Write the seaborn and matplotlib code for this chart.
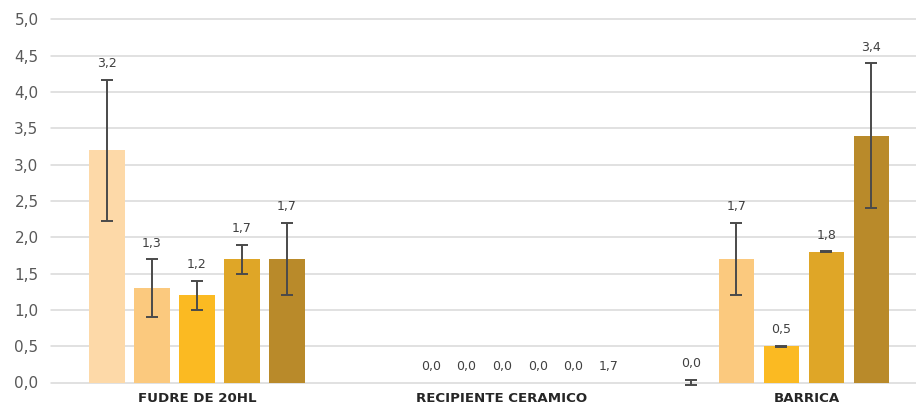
import numpy as np
import pandas as pd
import matplotlib
matplotlib.use("Agg")
import matplotlib.pyplot as plt
import seaborn as sns

# ---------------- data ----------------
categories = ["FUDRE DE 20HL", "RECIPIENTE CERAMICO", "BARRICA"]
series = ["S1", "S2", "S3", "S4", "S5"]
colors = ["#FDD9A8", "#FBC97E", "#FBBA22", "#DFA627", "#B98A2A"]

fudre_values = [3.2, 1.3, 1.2, 1.7, 1.7]
fudre_err = [0.97, 0.40, 0.20, 0.20, 0.50]

recipiente_values = [0.0, 0.0, 0.0, 0.0, 0.0]
recipiente_extra_label = 1.7  # stray label shown after the zeros

barrica_values = [0.0, 1.7, 0.5, 1.8, 3.4]
barrica_err = [0.04, 0.50, 0.006, 0.006, 1.00]

yticks = [0.0, 0.5, 1.0, 1.5, 2.0, 2.5, 3.0, 3.5, 4.0, 4.5, 5.0]

# ---------------- layout helpers ----------------
step_wide = 0.1475   # slot spacing in FUDRE / BARRICA
step_narrow = 0.117  # label spacing in RECIPIENTE
barrica_shift = -0.01

def fmt(v):
    return f"{v:.1f}".replace(".", ",")

rows = []
for i, (v, e) in enumerate(zip(fudre_values, fudre_err)):
    rows.append(dict(cat=0, pos=0 + (i - 2) * step_wide, value=v, err=e, series=series[i]))
for i, v in enumerate(recipiente_values):
    rows.append(dict(cat=1, pos=1 + (i - 2) * step_narrow, value=v, err=0.0, series=series[i]))
for i, (v, e) in enumerate(zip(barrica_values, barrica_err)):
    rows.append(dict(cat=2, pos=2 + barrica_shift + (i - 2.5) * step_wide, value=v, err=e, series=series[i]))
df = pd.DataFrame(rows)

# ---------------- figure ----------------
sns.set_theme(style="white")
plt.rcParams["font.family"] = ["DejaVu Sans"]

W, H = 916, 405
fig = plt.figure(figsize=(W / 100, H / 100), dpi=100)
left_px, right_px, top_px, bottom_px = 51, 916, 19.5, 382.5
ax = fig.add_axes([left_px / W, 1 - bottom_px / H,
                   (right_px - left_px) / W, (bottom_px - top_px) / H])

sns.barplot(data=df, x="pos", y="value", hue="series", hue_order=series,
            palette=colors, native_scale=True, dodge=False, width=1.0,
            errorbar=None, legend=False, saturation=1, linewidth=0, ax=ax)

# error bars (only where err > 0)
eb = df[df["err"] > 0]
ax.errorbar(eb["pos"], eb["value"], yerr=eb["err"], fmt="none",
            ecolor="#4a4a4a", elinewidth=1.4, capsize=4.5, capthick=1.4,
            zorder=5, clip_on=False)

# data labels
for _, r in df.iterrows():
    ax.annotate(fmt(r["value"]), (r["pos"], r["value"] + r["err"]),
                xytext=(0, 11.5), textcoords="offset points",
                ha="center", va="center", fontsize=9, color="#404040")
extra_pos = 1 + (len(recipiente_values) - 2) * step_narrow
ax.annotate(fmt(recipiente_extra_label), (extra_pos, 0.0),
            xytext=(0, 11.5), textcoords="offset points",
            ha="center", va="center", fontsize=9, color="#404040")

# axes
px0, pxs = 197, 305
ax.set_xlim((left_px - px0) / pxs, (right_px - px0) / pxs)
ax.set_ylim(0, 5)
ax.set_yticks(yticks)
ax.set_yticklabels([fmt(t) for t in yticks], fontsize=11, color="#595959")
ax.set_xticks([0, 1, 2])
ax.set_xticklabels(categories, fontsize=9.6, fontweight="bold", color="#262626")
ax.tick_params(axis="x", length=0, pad=7)
ax.tick_params(axis="y", length=0, pad=9)
ax.set_xlabel("")
ax.set_ylabel("")
for s in ax.spines.values():
    s.set_visible(False)
ax.yaxis.grid(True, color="#D9D9D9", linewidth=1.1)
ax.xaxis.grid(False)
ax.set_axisbelow(True)
for gl in ax.get_ygridlines():
    gl.set_clip_on(False)

fig.savefig("out.png", dpi=100)
